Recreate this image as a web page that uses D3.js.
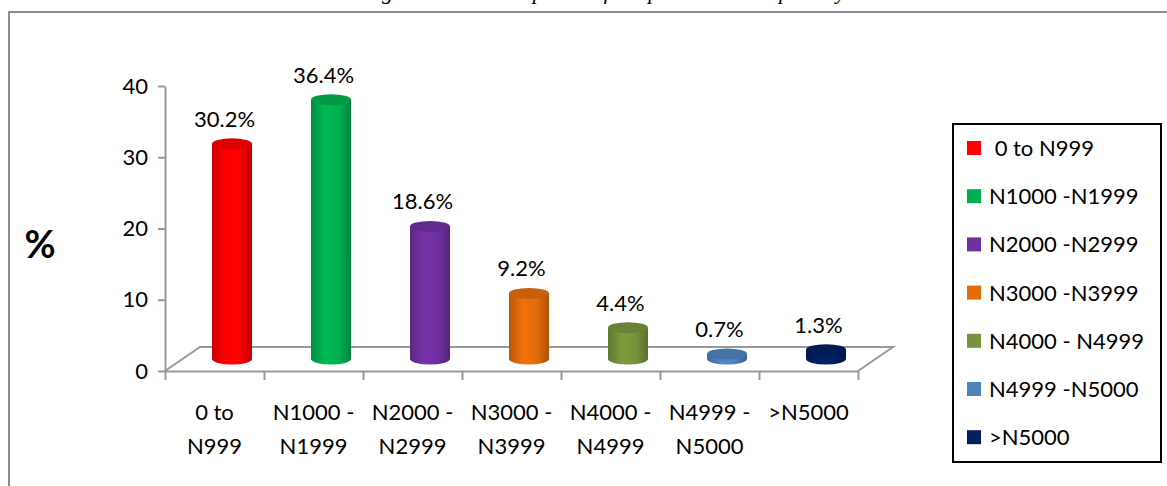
<!DOCTYPE html>
<html>
<head>
<meta charset="utf-8">
<script src="https://cdn.jsdelivr.net/npm/d3@7"></script>
<style>
body { margin: 0; background: #fff; }
svg text { font-family: Lato, "Open Sans", sans-serif; }
</style>
</head>
<body>
<svg width="1167" height="486"></svg>
<script>
var categories = ["0 to N999", "N1000 -N1999", "N2000 -N2999", "N3000 -N3999", "N4000 - N4999", "N4999 -N5000", ">N5000"];
var axisLabels = [["0 to", "N999"], ["N1000 -", "N1999"], ["N2000 -", "N2999"], ["N3000 -", "N3999"], ["N4000 -", "N4999"], ["N4999 -", "N5000"], [">N5000", ""]];
var legendLabels = [" 0 to N999", "N1000 -N1999", "N2000 -N2999", "N3000 -N3999", "N4000 - N4999", "N4999 -N5000", ">N5000"];
var values = [30.2, 36.4, 18.6, 9.2, 4.4, 0.7, 1.3];
var colors = ["#ff0000", "#00b050", "#7030a0", "#e46c0a", "#77933c", "#4f81bd", "#002060"];
var yTicks = [0, 10, 20, 30, 40];

var svg = d3.select("svg");
var defs = svg.append("defs");

// chart frame (cut by the page edges)
svg.append("rect")
    .attr("x", 9).attr("y", 12)
    .attr("width", 1200).attr("height", 520)
    .attr("fill", "none")
    .attr("stroke", "#8c8c8c")
    .attr("stroke-width", 2);

// caption, mostly cut off at the top
svg.append("text")
    .attr("x", 604).attr("y", -1)
    .attr("text-anchor", "middle")
    .style("font-family", "'Liberation Serif', serif")
    .attr("font-style", "italic")
    .attr("font-size", "22px")
    .text("Figure 4: Amount spent on food per household per day");

var plotLeft = 165, plotRight = 858, plotBottom = 371, plotTop = 86;
var depthX = 35, depthY = -24;

var x = d3.scaleBand().domain(categories).range([plotLeft, plotRight]);
var y = d3.scaleLinear().domain([0, 40]).range([plotBottom, plotTop]);
var xEdge = d3.scaleLinear().domain([0, categories.length]).range([plotLeft, plotRight]);

// floor
svg.append("path")
    .attr("stroke", "#999").attr("stroke-width", 2).attr("fill", "none")
    .attr("d", "M" + plotLeft + "," + y(0) + "L" + (plotLeft + depthX) + "," + (y(0) + depthY) +
        "L" + (plotRight + depthX) + "," + (y(0) + depthY) + "L" + plotRight + "," + y(0));

// y axis
var yAxisGroup = svg.append("g")
    .attr("transform", "translate(" + plotLeft + ",0)")
    .call(d3.axisLeft(y).tickValues(yTicks).tickSize(7).tickSizeOuter(0).tickPadding(10));
yAxisGroup.select(".domain").attr("stroke", "#999").attr("stroke-width", 2);
yAxisGroup.selectAll(".tick line").attr("stroke", "#999").attr("stroke-width", 2);
yAxisGroup.selectAll(".tick text")
    .attr("font-size", "22px")
    .attr("fill", "#000")
    .style("font-family", "Lato, sans-serif");

// x axis (ticks at category edges)
var xAxisGroup = svg.append("g")
    .attr("transform", "translate(0," + y(0) + ")")
    .call(d3.axisBottom(xEdge).ticks(categories.length).tickSize(9).tickSizeOuter(0).tickFormat(""));
xAxisGroup.select(".domain").attr("stroke", "#999").attr("stroke-width", 2);
xAxisGroup.selectAll(".tick line").attr("stroke", "#999").attr("stroke-width", 2);

// category labels
var catLabels = svg.append("g").selectAll("text")
    .data(categories)
    .enter()
    .append("text")
    .attr("y", 420)
    .attr("text-anchor", "middle")
    .attr("font-size", "22px")
    .attr("fill", "#000");
catLabels.append("tspan")
    .attr("x", function(d) { return x(d) + x.bandwidth() / 2; })
    .text(function(d, i) { return axisLabels[i][0]; });
catLabels.append("tspan")
    .attr("x", function(d) { return x(d) + x.bandwidth() / 2; })
    .attr("dy", 34)
    .text(function(d, i) { return axisLabels[i][1]; });

// gradients for cylinders
colors.forEach(function(c, i) {
    var g = defs.append("linearGradient").attr("id", "grad" + i)
        .attr("x1", "0").attr("x2", "1").attr("y1", "0").attr("y2", "0");
    g.append("stop").attr("offset", "0%").attr("stop-color", d3.color(c).darker(0.6));
    g.append("stop").attr("offset", "35%").attr("stop-color", d3.color(c).brighter(0.15));
    g.append("stop").attr("offset", "70%").attr("stop-color", c);
    g.append("stop").attr("offset", "100%").attr("stop-color", d3.color(c).darker(0.8));
});

var rx = 20, ry = 5.5;

function cx(d) { return x(d) + x.bandwidth() / 2 + depthX / 2; }

var bars = svg.append("g").selectAll("g")
    .data(categories)
    .enter()
    .append("g");

bars.append("path")
    .attr("fill", function(d, i) { return "url(#grad" + i + ")"; })
    .attr("d", function(d, i) {
        var c = cx(d);
        var yb = y(0) + depthY / 2;
        var yt = y(values[i]) + depthY / 2;
        return "M" + (c - rx) + "," + yt + "L" + (c - rx) + "," + yb +
            "A" + rx + "," + ry + " 0 0 0 " + (c + rx) + "," + yb +
            "L" + (c + rx) + "," + yt + "Z";
    });

bars.append("ellipse")
    .attr("cx", function(d) { return cx(d); })
    .attr("cy", function(d, i) { return y(values[i]) + depthY / 2; })
    .attr("rx", rx)
    .attr("ry", ry)
    .attr("fill", function(d, i) { return d3.color(colors[i]).darker(0.35); });

// value labels
svg.append("g").selectAll("text")
    .data(categories)
    .enter()
    .append("text")
    .attr("x", function(d) { return x(d) + x.bandwidth() / 2 + 10; })
    .attr("y", function(d, i) { return y(values[i]) + depthY / 2 - 17; })
    .attr("text-anchor", "middle")
    .attr("font-size", "22px")
    .attr("fill", "#000")
    .text(function(d, i) { return values[i] + "%"; });

// y title
svg.append("text")
    .attr("x", 40).attr("y", 258)
    .attr("text-anchor", "middle")
    .attr("font-size", "38px")
    .attr("font-weight", "bold")
    .attr("fill", "#000")
    .text("%");

// legend
var legend = svg.append("g");
legend.append("rect")
    .attr("x", 953).attr("y", 124)
    .attr("width", 208).attr("height", 338)
    .attr("fill", "#fff")
    .attr("stroke", "#000")
    .attr("stroke-width", 2);

var items = legend.selectAll("g.item")
    .data(legendLabels)
    .enter()
    .append("g")
    .attr("class", "item")
    .attr("transform", function(d, i) { return "translate(967," + (148 + i * 48.2) + ")"; });
items.append("rect")
    .attr("x", 0).attr("y", -7)
    .attr("width", 14).attr("height", 14)
    .attr("fill", function(d, i) { return colors[i]; });
items.append("text")
    .attr("x", 22).attr("y", 8)
    .attr("font-size", "22px")
    .attr("fill", "#000")
    .style("white-space", "pre")
    .text(function(d) { return d; });
</script>
</body>
</html>
